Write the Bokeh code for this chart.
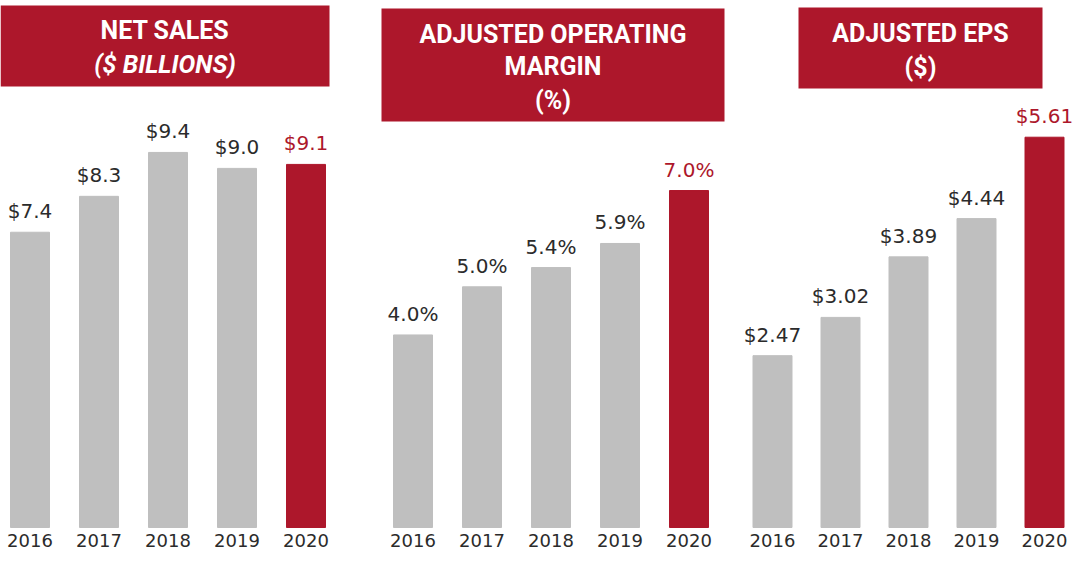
from bokeh.plotting import figure
from bokeh.layouts import row
from bokeh.models import Range1d, BoxAnnotation, Label, ColumnDataSource
from bokeh.embed import file_html
from bokeh.resources import INLINE
from bokeh.core.properties import value

years = ["2016", "2017", "2018", "2019", "2020"]
net_sales = [7.4, 8.3, 9.4, 9.0, 9.1]
net_sales_labels = ["$7.4", "$8.3", "$9.4", "$9.0", "$9.1"]
op_margin = [4.0, 5.0, 5.4, 5.9, 7.0]
op_margin_labels = ["4.0%", "5.0%", "5.4%", "5.9%", "7.0%"]
eps = [2.47, 3.02, 3.89, 4.44, 5.61]
eps_labels = ["$2.47", "$3.02", "$3.89", "$4.44", "$5.61"]

GRAY = "#BFBFBF"
RED = "#AD172B"
DARK = "#2b2b2b"
H = 552
BASE = 527          # canvas row of the zero line
FONT = "Roboto"
NUMFONT = "DejaVu Sans"
FIX = 8             # empirical baseline correction


def panel(vals, labels, width, xr, ppu, bar_w, box, center_x, lines):
    idx = list(range(len(vals)))
    colors = [GRAY] * (len(vals) - 1) + [RED]
    tcolors = [DARK] * (len(vals) - 1) + [RED]
    src = ColumnDataSource(dict(x=idx, top=vals, label=labels, year=years,
                                zero=[0] * len(vals), color=colors, tcolor=tcolors))
    p = figure(width=width, height=H, x_range=Range1d(*xr),
               y_range=Range1d(-(H - BASE) / ppu, BASE / ppu),
               toolbar_location=None, output_backend="svg", min_border=0, tools="")
    p.outline_line_color = None
    p.grid.visible = False
    p.axis.visible = False
    p.vbar(x="x", top="top", bottom=0, width=bar_w, color="color", source=src)
    p.text(x="x", y="top", text="label", text_color="tcolor", source=src,
           text_align="center", text_baseline="alphabetic", y_offset=-13 - FIX,
           text_font=value(NUMFONT), text_font_size="20px")
    p.text(x="x", y="zero", text="year", text_color=DARK, source=src,
           text_align="center", text_baseline="alphabetic", y_offset=21 - FIX,
           text_font=value(NUMFONT), text_font_size="18px")
    l, r, t, b = box
    p.add_layout(BoxAnnotation(left=l, right=r, top=H - t, bottom=H - b,
                               left_units="screen", right_units="screen",
                               top_units="screen", bottom_units="screen",
                               fill_color=RED, fill_alpha=1.0, line_color=None,
                               level="overlay"))
    for text, base, italic in lines:
        p.add_layout(Label(x=center_x, y=H - (base - FIX), x_units="screen", y_units="screen",
                           text=text, text_align="center", text_baseline="alphabetic",
                           text_color="white", text_font=FONT, text_font_size="25px",
                           text_font_style="bold italic" if italic else "bold",
                           level="overlay"))
    return p


p1 = panel(net_sales, net_sales_labels, 360, (-29.5 / 69, (360 - 29.5) / 69), 39.9,
           39 / 69, (0, 329, 5, 86), 164.5,
           [("NET SALES", 38, False), ("($ BILLIONS)", 72, True)])
p2 = panel(op_margin, op_margin_labels, 372, (-52.5 / 69, (372 - 52.5) / 69), 48.14,
           39 / 69, (21, 364, 8, 121), 192.5,
           [("ADJUSTED OPERATING", 42, False), ("MARGIN", 74, False), ("(%)", 108, False)])
p3 = panel(eps, eps_labels, 344, (-40 / 68, (344 - 40) / 68), 69.57,
           39 / 68, (66, 310, 7, 88), 188,
           [("ADJUSTED EPS", 41, False), ("($)", 75, False)])

layout = row(p1, p2, p3, spacing=0)
open("out.html", "w").write(file_html(layout, INLINE))
